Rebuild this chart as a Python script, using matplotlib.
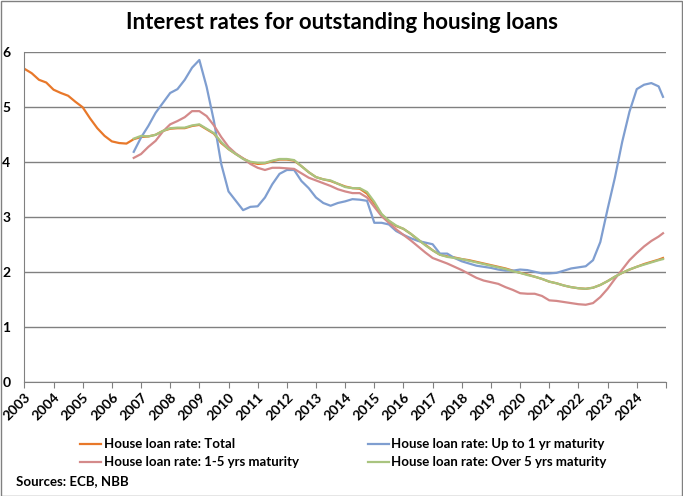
import numpy as np
import matplotlib
matplotlib.use("Agg")
import matplotlib.pyplot as plt

plt.rcParams['font.family'] = ['Lato', 'DejaVu Sans']

# quarterly readings (fractional years), last point is Nov/Dec 2024
t_total = np.append(np.arange(2003.0, 2024.76, 0.25), 2024.9)
t_split = np.append(np.arange(2006.75, 2024.76, 0.25), 2024.9)

total = [5.70, 5.62, 5.50, 5.45,  5.32, 5.26, 5.21, 5.10,  5.00, 4.80, 4.62, 4.48,
         4.38, 4.35, 4.34, 4.42,  4.46, 4.47, 4.50, 4.57,  4.61, 4.62, 4.62, 4.66,
         4.68, 4.60, 4.52, 4.35,  4.24, 4.15, 4.07, 4.00,  3.97, 3.98, 4.02, 4.05,
         4.05, 4.03, 3.93, 3.82,  3.73, 3.69, 3.66, 3.61,  3.56, 3.53, 3.52, 3.43,
         3.25, 3.05, 2.93, 2.84,  2.79, 2.70, 2.59, 2.50,  2.40, 2.32, 2.29, 2.27,
         2.24, 2.22, 2.19, 2.16,  2.13, 2.10, 2.07, 2.03,  1.99, 1.96, 1.92, 1.88,
         1.83, 1.80, 1.76, 1.73,  1.71, 1.70, 1.72, 1.77,  1.84, 1.92, 1.99, 2.05,
         2.10, 2.15, 2.19, 2.23,  2.26]

upto1 = [4.19,
         4.45, 4.66, 4.90, 5.08,  5.26, 5.33, 5.50, 5.72,  5.86, 5.37, 4.75, 3.97,
         3.47, 3.30, 3.13, 3.19,  3.20, 3.36, 3.60, 3.79,  3.86, 3.86, 3.66, 3.53,
         3.36, 3.26, 3.21, 3.26,  3.29, 3.33, 3.32, 3.30,  2.90, 2.90, 2.87, 2.75,
         2.68, 2.62, 2.57, 2.54,  2.51, 2.34, 2.34, 2.26,  2.20, 2.16, 2.12, 2.10,
         2.08, 2.05, 2.03, 2.03,  2.05, 2.04, 2.01, 1.98,  1.98, 1.99, 2.03, 2.07,
         2.09, 2.11, 2.22, 2.55,  3.15, 3.72, 4.37, 4.92,  5.33, 5.41, 5.44, 5.38,
         5.19]

mat1_5 = [4.08,
          4.15, 4.28, 4.39, 4.56,  4.69, 4.75, 4.82, 4.93,  4.93, 4.84, 4.67, 4.46,
          4.28, 4.16, 4.07, 3.97,  3.90, 3.86, 3.90, 3.90,  3.89, 3.88, 3.80, 3.72,
          3.67, 3.62, 3.57, 3.51,  3.47, 3.44, 3.44, 3.36,  3.19, 3.02, 2.90, 2.78,
          2.68, 2.58, 2.47, 2.36,  2.26, 2.21, 2.16, 2.10,  2.04, 1.97, 1.90, 1.85,
          1.82, 1.79, 1.73, 1.68,  1.62, 1.61, 1.61, 1.57,  1.49, 1.48, 1.46, 1.44,
          1.42, 1.41, 1.44, 1.55,  1.70, 1.88, 2.05, 2.22,  2.35, 2.47, 2.57, 2.65,
          2.71]

over5 = [4.43,
         4.48, 4.47, 4.50, 4.57,  4.62, 4.63, 4.63, 4.67,  4.69, 4.61, 4.53, 4.37,
         4.24, 4.15, 4.06, 4.01,  3.99, 3.99, 4.03, 4.06,  4.06, 4.04, 3.93, 3.82,
         3.73, 3.69, 3.67, 3.61,  3.55, 3.53, 3.53, 3.46,  3.28, 3.06, 2.94, 2.85,
         2.79, 2.70, 2.60, 2.49,  2.40, 2.32, 2.28, 2.26,  2.24, 2.21, 2.18, 2.15,
         2.12, 2.09, 2.06, 2.02,  1.99, 1.95, 1.92, 1.88,  1.83, 1.80, 1.76, 1.73,
         1.71, 1.70, 1.72, 1.77,  1.84, 1.92, 1.99, 2.05,  2.10, 2.14, 2.18, 2.22,
         2.24]

years = list(range(2003, 2025))

fig = plt.figure(figsize=(6.83, 4.96), dpi=100)
ax = fig.add_axes([0.0357, 0.2292, 0.975 - 0.0357, 0.8946 - 0.2292])

lw = 1.6
l1, = ax.plot(t_total, total, color='#E8782A', lw=lw, label='House loan rate: Total')
l2, = ax.plot(t_split, upto1, color='#7F9ED0', lw=lw, label='House loan rate: Up to 1 yr maturity')
l3, = ax.plot(t_split, mat1_5, color='#D48A8A', lw=lw, label='House loan rate: 1-5 yrs maturity')
l4, = ax.plot(t_split, over5, color='#A9C47F', lw=lw, label='House loan rate: Over 5 yrs maturity')

ax.set_xlim(2003, 2025)
ax.set_ylim(0, 6)
ax.set_yticks(range(0, 7))
ax.set_xticks(range(2003, 2026))
ax.set_xticklabels([str(y) for y in years] + [''], rotation=45, ha='right',
                   rotation_mode='anchor', fontweight='bold', fontsize=10)
for lab in ax.get_yticklabels():
    lab.set_fontweight('bold')
    lab.set_fontsize(10)
ax.tick_params(axis='y', length=0, pad=10)
ax.tick_params(axis='x', length=4, color='#808080', pad=2)
ax.grid(axis='y', color='#808080', lw=1)
ax.set_axisbelow(True)
for s in ['top', 'right']:
    ax.spines[s].set_visible(False)
for s in ['left', 'bottom']:
    ax.spines[s].set_color('#808080')

fig.suptitle('Interest rates for outstanding housing loans', x=0.5, y=0.975,
             fontsize=16, fontweight='bold')

fig.legend(handles=[l1, l3, l2, l4], ncol=2, loc='upper left',
           bbox_to_anchor=(0.1, 0.14), frameon=False,
           handlelength=1.6, handletextpad=0.2, columnspacing=5.2,
           labelspacing=0.45, prop={'weight': 'bold', 'size': 9.5})
fig.text(0.023, 0.022, 'Sources: ECB, NBB', fontsize=9.5, fontweight='bold')

fig.patches.append(plt.Rectangle((0.001, 0.001), 0.997, 0.997, transform=fig.transFigure,
                                 fill=False, edgecolor='#808080', lw=1))

fig.savefig('out.png', dpi=100)
